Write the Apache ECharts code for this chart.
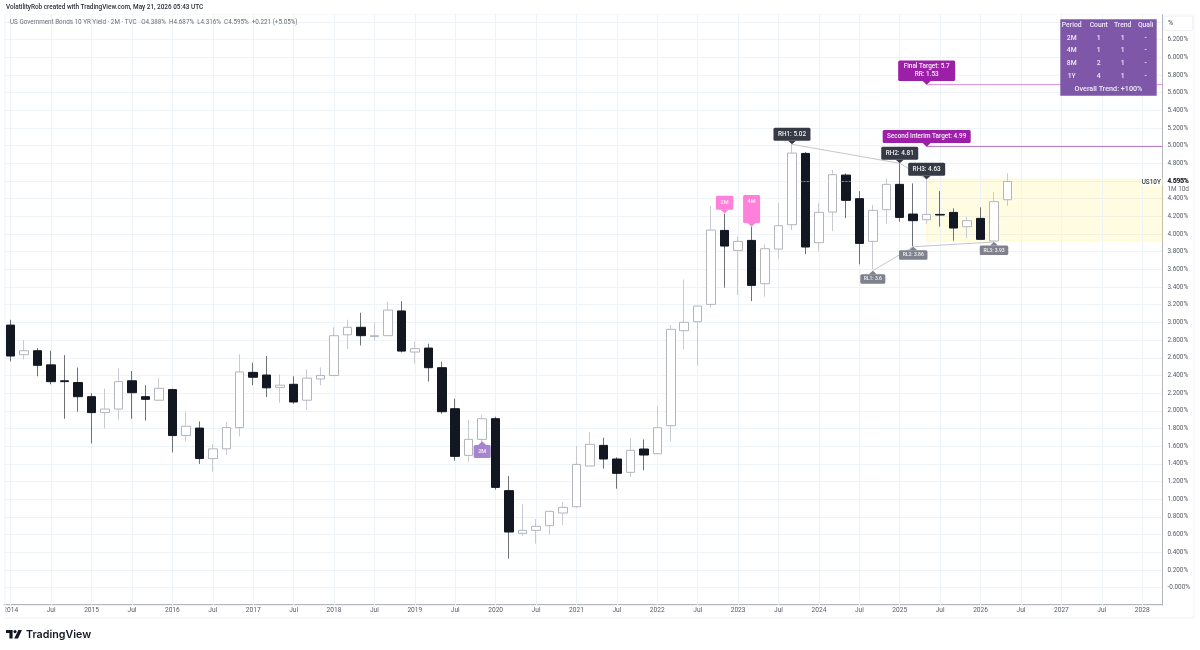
<!DOCTYPE html>
<html>
<head>
<meta charset="utf-8">
<style>html,body{margin:0;padding:0;background:#fff}#c{width:1200px;height:650px}</style>
<script src="https://cdn.jsdelivr.net/npm/echarts@6/dist/echarts.min.js"></script>
</head>
<body>
<div id="c"></div>
<script>
const FONT = 'Roboto, "Open Sans", sans-serif';
const months = ['01','03','05','07','09','11'];
const categories = [];
for (let y = 2014; y <= 2028; y++) months.forEach(m => { if (categories.length < 86) categories.push(y + '-' + m); });

const opens = [2.97,2.635,2.68,2.52,2.34,2.32,2.16,1.98,2.02,2.34,2.16,2.12,2.24,1.72,1.805,1.46,1.57,1.81,2.435,2.405,2.265,2.30,2.12,2.36,2.40,2.86,2.945,2.84,2.85,3.13,2.665,2.71,2.488,2.024,1.496,1.677,1.911,1.097,0.614,0.648,0.701,0.844,0.915,1.376,1.609,1.455,1.304,1.568,1.515,1.832,2.906,3.008,3.204,4.041,3.815,3.928,3.438,3.83,4.105,4.912,3.902,4.249,4.667,4.40,3.917,4.275,4.562,4.226,4.162,4.222,4.245,4.083,4.177,3.921,4.388];
const closes = [2.62,2.68,2.515,2.33,2.33,2.16,1.98,2.02,2.33,2.205,2.13,2.255,1.72,1.825,1.46,1.57,1.81,2.44,2.38,2.26,2.29,2.10,2.37,2.40,2.85,2.945,2.85,2.85,3.14,2.676,2.703,2.488,1.99,1.485,1.677,1.911,1.134,0.629,0.648,0.693,0.863,0.908,1.394,1.621,1.455,1.293,1.553,1.50,1.809,2.922,3.001,3.185,4.045,3.864,3.917,3.419,3.834,4.094,4.916,3.853,4.245,4.671,4.381,3.894,4.268,4.562,4.188,4.151,4.222,4.215,4.068,4.151,3.94,4.366,4.595];
const highs = [3.03,2.80,2.71,2.68,2.63,2.49,2.20,2.25,2.48,2.45,2.29,2.37,2.25,1.99,1.88,1.625,1.87,2.64,2.545,2.62,2.41,2.39,2.47,2.49,2.945,3.03,3.11,3.00,3.235,3.24,2.782,2.76,2.556,2.137,1.896,1.956,1.934,1.262,0.942,0.776,0.863,0.968,1.602,1.76,1.696,1.474,1.692,1.677,2.054,2.971,3.487,3.19,4.32,4.23,3.97,4.083,3.883,4.354,5.02,4.928,4.347,4.724,4.686,4.486,4.328,4.63,4.81,4.573,4.63,4.486,4.29,4.196,4.302,4.475,4.687];
const lows = [2.56,2.58,2.39,2.30,1.91,1.99,1.63,1.80,1.90,1.91,1.89,2.11,1.53,1.655,1.40,1.31,1.50,1.71,2.29,2.155,2.09,2.08,2.01,2.29,2.39,2.70,2.74,2.80,2.845,2.66,2.533,2.33,1.967,1.436,1.421,1.62,1.108,0.327,0.584,0.497,0.599,0.708,0.904,1.376,1.345,1.119,1.251,1.327,1.511,1.655,2.695,2.511,3.17,3.393,3.31,3.242,3.291,3.717,4.045,3.774,3.80,4.034,4.181,3.657,3.6,4.113,4.14,3.86,4.113,4.083,3.925,3.955,3.94,3.93,4.316];

const annX = [58,66,68,68,68,53,55,35,64,67,73];
const annY = [5.015,4.80,4.62,4.988,5.69,4.234,4.083,1.655,3.585,3.856,3.91];
const annText = ['RH1: 5.02','RH2: 4.81','RH3: 4.63','Second Interim Target: 4.99','Final Target: 5.7\nRR: 1.53','2M','4M','2M','RL1: 3.6','RL2: 3.86','RL3: 3.93'];
const annStyle = [
 {f:'#363a45',w:37,h:13,fs:6.4},{f:'#363a45',w:37,h:13,fs:6.4},{f:'#363a45',w:37,h:13,fs:6.4},
 {f:'#9c1fa8',w:88,h:13,fs:6.4},{f:'#9c1fa8',w:57,h:20.5,fs:6.4},
 {f:'#ff80da',w:17.5,h:14,fs:5.6},{f:'#ff80da',w:17,h:28,fs:5.6,top:1},
 {f:'#a884cf',w:17,h:13,fs:5.6,below:1},
 {f:'#7f818c',w:25,h:9.5,fs:5,below:1},{f:'#7f818c',w:28.5,h:9.5,fs:5,below:1},{f:'#7f818c',w:28.5,h:9.5,fs:5,below:1}
];
const targetSecond = 4.99, targetFinal = 5.69, rangeHigh = 4.62, rangeLow = 3.92, rangeStart = 68, axisEnd = 85.5;
const highPivots = [[58,5.015],[66,4.80],[68,4.62]];
const lowPivots = [[64,3.585],[67,3.856],[73,3.91]];
const tableHead = ['Period','Count','Trend','Quali'];
const tableRows = [['2M','1','1','-'],['4M','1','1','-'],['8M','2','1','-'],['1Y','4','1','-']];
const tableFoot = 'Overall Trend: +100%';
const lastClose = closes[closes.length - 1];

const chart = echarts.init(document.getElementById('c'));

function annotation(params, api) {
  const i = params.dataIndex, s = annStyle[i];
  const p = api.coord([api.value(0), api.value(1)]);
  const tip = 3.6, hw = 4, dir = s.below ? 1 : -1;
  const edge = p[1] + dir * tip;
  const boxY = s.below ? edge : edge - s.h;
  const textY = s.top ? boxY + 6 : boxY + s.h / 2;
  return {type:'group', children:[
    {type:'polygon', shape:{points:[[p[0]-hw,edge],[p[0]+hw,edge],[p[0],p[1]]]}, style:{fill:s.f}},
    {type:'rect', shape:{x:p[0]-s.w/2,y:boxY,width:s.w,height:s.h,r:1.5}, style:{fill:s.f}},
    {type:'text', style:{text:annText[i],x:p[0],y:textY,align:'center',verticalAlign:'middle',fontSize:s.fs,fontFamily:FONT,fontWeight:500,lineHeight:s.fs+1.5,fill:'#f2f2f4'}}
  ]};
}
function lastLabel(params, api) {
  const p = api.coord([api.value(0), api.value(1)]);
  return {type:'group', children:[
    {type:'rect', shape:{x:p[0]-20,y:p[1]-3.5,width:20,height:8}, style:{fill:'#fff'}},
    {type:'text', style:{text:'US10Y',x:p[0]-1.5,y:p[1]+0.6,align:'right',verticalAlign:'middle',fontSize:6.4,fontFamily:FONT,fontWeight:500,fill:'#333'}},
    {type:'text', style:{text:lastClose.toFixed(3)+'%',x:p[0]+5,y:p[1]+0.2,align:'left',verticalAlign:'middle',fontSize:6.5,fontFamily:FONT,fontWeight:600,fill:'#222'}},
    {type:'text', style:{text:'1M 10d',x:p[0]+5,y:p[1]+8,align:'left',verticalAlign:'middle',fontSize:6.4,fontFamily:FONT,fill:'#666'}}
  ]};
}

const colX = [1071.7,1098.7,1122.7,1145.7], rowY = [25.3,38.3,50.7,63.3,76];
const gfx = [];
const Z = 100;
gfx.push({type:'rect',z:Z,shape:{x:0,y:0,width:1200,height:14},style:{fill:'#fff'}});
gfx.push({type:'rect',z:Z,shape:{x:0,y:606,width:5,height:12},style:{fill:'#fff'}});
gfx.push({type:'rect',z:Z-1,shape:{x:5,y:14,width:1189,height:604},style:{fill:'none',stroke:'#f0f3fa',lineWidth:1}});
gfx.push({type:'text',z:Z+1,style:{text:'VolatilityRob created with TradingView.com, May 21, 2026 05:43 UTC',x:6,y:7.5,verticalAlign:'middle',fontSize:6.4,fontFamily:FONT,fontWeight:500,fill:'#2a2e39'}});
gfx.push({type:'text',z:Z+1,style:{text:'US Government Bonds 10 YR Yield · 2M · TVC   O4.388%  H4.687%  L4.316%  C4.595%  +0.221 (+5.05%)',x:10,y:22,verticalAlign:'middle',fontSize:6.3,fontFamily:FONT,fill:'#6a6d78'}});
gfx.push({type:'rect',z:Z+1,shape:{x:1060.3,y:19.3,width:96.4,height:76.4},style:{fill:'#7e57a9'}});
tableHead.forEach((t,c)=>gfx.push({type:'text',z:Z+2,style:{text:t,x:colX[c],y:rowY[0],align:'center',verticalAlign:'middle',fontSize:6.8,fontFamily:FONT,fontWeight:500,fill:'#f0eaf6'}}));
tableRows.forEach((r,j)=>r.forEach((t,c)=>gfx.push({type:'text',z:Z+2,style:{text:t,x:colX[c],y:rowY[j+1],align:'center',verticalAlign:'middle',fontSize:6.8,fontFamily:FONT,fontWeight:500,fill:'#f0eaf6'}})));
gfx.push({type:'text',z:Z+2,style:{text:tableFoot,x:1108.5,y:88.7,align:'center',verticalAlign:'middle',fontSize:7.2,fontFamily:FONT,fontWeight:500,fill:'#f0eaf6'}});
gfx.push({type:'rect',z:Z+1,shape:{x:1164,y:16,width:28.7,height:14.7,r:2},style:{fill:'#fff',stroke:'#eef0f4',lineWidth:1}});
gfx.push({type:'text',z:Z+2,style:{text:'%',x:1170.5,y:23.7,align:'center',verticalAlign:'middle',fontSize:7,fontFamily:FONT,fill:'#444'}});
gfx.push({type:'polygon',z:Z,shape:{points:[[6,630],[12.6,630],[12.6,638.5],[9.4,638.5],[9.4,633],[6,633]]},style:{fill:'#131722'}});
gfx.push({type:'circle',z:Z,shape:{cx:15,cy:631.6,r:1.6},style:{fill:'#131722'}});
gfx.push({type:'polygon',z:Z,shape:{points:[[18.4,630],[22,630],[18,638.5],[14.2,638.5]]},style:{fill:'#131722'}});
gfx.push({type:'text',z:Z,style:{text:'TradingView',x:26,y:634.5,verticalAlign:'middle',fontSize:10.7,fontFamily:'Inter, Roboto, sans-serif',fontWeight:600,fill:'#131722'}});

const option = {
  animation:false, backgroundColor:'#fff', textStyle:{fontFamily:FONT},
  grid:{left:4, right:37.6, top:4.2, bottom:44.7, containLabel:false},
  xAxis:[
    {type:'category', data:categories, boundaryGap:true, offset:-1.5,
     axisLine:{onZero:false,lineStyle:{color:'#b2b5be',width:1}}, axisTick:{show:false}, splitLine:{show:false},
     axisLabel:{interval:(i)=>i%3===0, margin:3.5, fontSize:6.6, fontFamily:FONT, color:'#555a66',
       formatter:(v)=>{const [y,m]=v.split('-');return m==='01'?y:'Jul';}}},
    {type:'value', min:-0.5, max:axisEnd, show:false, position:'top', splitLine:{show:false}}
  ],
  yAxis:{type:'value', position:'right', min:-0.2, max:6.6, interval:0.2, scale:false,
    axisLine:{show:true,onZero:false,lineStyle:{color:'#b2b5be',width:1}}, axisTick:{show:false},
    splitLine:{show:true,lineStyle:{color:'#eef3f8',width:1}},
    axisLabel:{margin:5, fontSize:6.4, fontFamily:FONT, color:'#555a66', align:'left',
      showMinLabel:false, showMaxLabel:false,
      formatter:(v)=>{ if(v>6.25||v<-0.1) return ''; if(Math.abs(v)<1e-6) return '-0.000%'; return v.toFixed(3)+'%'; }}},
  graphic:{elements:gfx},
  series:[
    {type:'line', xAxisIndex:0, data:[], silent:true, z:1,
     markLine:{silent:true, z:1, symbol:'none', label:{show:false}, animation:false,
       lineStyle:{color:'#eef3f8',width:1,type:'solid'},
       data:categories.map((c,i)=>i%3===0?{xAxis:i}:null).filter(Boolean)}},
    {type:'line', xAxisIndex:1, data:[], silent:true, z:1,
     markArea:{silent:true, z:1, animation:false, itemStyle:{color:'rgba(255,235,59,0.15)',borderColor:'rgba(255,235,59,0.2)',borderWidth:1},
       data:[[{coord:[rangeStart,rangeHigh]},{coord:[axisEnd,rangeLow]}]]}},
    {type:'candlestick', name:'wick', silent:true, z:2, barWidth:1,
     data:categories.slice(0,opens.length).map((c,i)=>[opens[i],closes[i],lows[i],highs[i]]),
     itemStyle:{color:'#c9cbd2',color0:'#6f7179',borderColor:'#c9cbd2',borderColor0:'#6f7179',borderWidth:1}},
    {type:'candlestick', name:'body', silent:true, z:3, barWidth:9,
     data:categories.slice(0,opens.length).map((c,i)=>[opens[i],closes[i],Math.min(opens[i],closes[i]),Math.max(opens[i],closes[i])]),
     itemStyle:{color:'#ffffff',color0:'#131722',borderColor:'#b3b5bd',borderColor0:'#131722',borderWidth:1}},
    {type:'line', xAxisIndex:1, silent:true, z:4, symbol:'none', data:highPivots, lineStyle:{color:'#c6c7cc',width:1}},
    {type:'line', xAxisIndex:1, silent:true, z:4, symbol:'none', data:lowPivots, lineStyle:{color:'#c6c7cc',width:1}},
    {type:'line', xAxisIndex:1, silent:true, z:4, symbol:'none', data:[[rangeStart,targetSecond],[axisEnd,targetSecond]], lineStyle:{color:'#b47fc4',width:1}},
    {type:'line', xAxisIndex:1, silent:true, z:4, symbol:'none', data:[[rangeStart,targetFinal],[axisEnd,targetFinal]], lineStyle:{color:'#d68fe0',width:1}},
    {type:'line', xAxisIndex:1, silent:true, z:4, symbol:'none', data:[[58.7,lastClose],[62.4,lastClose]], lineStyle:{color:'#ffffff',width:0.7,type:'dotted'}},
    {type:'custom', xAxisIndex:1, silent:true, z:5, clip:false, renderItem:annotation,
     data:annX.map((x,i)=>[x,annY[i]])},
    {type:'custom', xAxisIndex:1, silent:true, z:6, clip:false, renderItem:lastLabel,
     data:[[axisEnd,lastClose]]}
  ]
};
chart.setOption(option);
</script>
</body>
</html>
